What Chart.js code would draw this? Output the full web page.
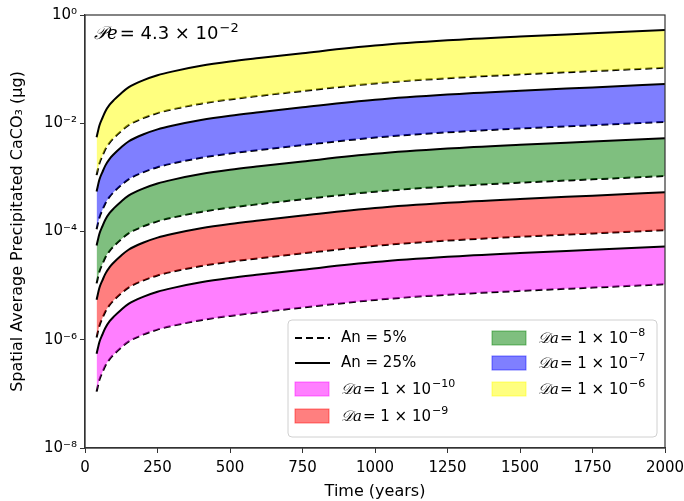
<!DOCTYPE html>
<html>
<head>
<meta charset="utf-8">
<script src="https://cdn.jsdelivr.net/npm/chart.js@4.4.1/dist/chart.umd.min.js"></script>
<style>
  html, body { margin: 0; padding: 0; background: #fff; }
  #wrap { width: 684px; height: 501px; position: relative; }
</style>
</head>
<body>
<div id="wrap"><canvas id="chart"></canvas></div>
<script>
// Time (years)
const time = [40, 50, 60, 70, 85, 100, 125, 150, 200, 250, 300, 400, 500, 600, 750, 1000, 1250, 1500, 1750, 2000];

// Da = 1e-6
const an25_da6 = [5.5e-3, 9.2e-3, 1.25e-2, 1.65e-2, 2.2e-2, 2.7e-2, 3.6e-2, 4.6e-2, 6.2e-2, 7.7e-2, 9.0e-2, 0.115, 0.138, 0.160, 0.197, 0.272, 0.34, 0.40, 0.46, 0.53];
const an5_da6  = [1.1e-3, 1.84e-3, 2.5e-3, 3.3e-3, 4.4e-3, 5.4e-3, 7.2e-3, 9.2e-3, 1.24e-2, 1.54e-2, 1.8e-2, 2.3e-2, 2.76e-2, 3.2e-2, 3.94e-2, 5.44e-2, 6.8e-2, 8.0e-2, 9.2e-2, 0.106];
// Da = 1e-7
const an25_da7 = [5.5e-4, 9.2e-4, 1.25e-3, 1.65e-3, 2.2e-3, 2.7e-3, 3.6e-3, 4.6e-3, 6.2e-3, 7.7e-3, 9.0e-3, 1.15e-2, 1.38e-2, 1.60e-2, 1.97e-2, 2.72e-2, 3.4e-2, 4.0e-2, 4.6e-2, 5.3e-2];
const an5_da7  = [1.1e-4, 1.84e-4, 2.5e-4, 3.3e-4, 4.4e-4, 5.4e-4, 7.2e-4, 9.2e-4, 1.24e-3, 1.54e-3, 1.8e-3, 2.3e-3, 2.76e-3, 3.2e-3, 3.94e-3, 5.44e-3, 6.8e-3, 8.0e-3, 9.2e-3, 1.06e-2];
// Da = 1e-8
const an25_da8 = [5.5e-5, 9.2e-5, 1.25e-4, 1.65e-4, 2.2e-4, 2.7e-4, 3.6e-4, 4.6e-4, 6.2e-4, 7.7e-4, 9.0e-4, 1.15e-3, 1.38e-3, 1.60e-3, 1.97e-3, 2.72e-3, 3.4e-3, 4.0e-3, 4.6e-3, 5.3e-3];
const an5_da8  = [1.1e-5, 1.84e-5, 2.5e-5, 3.3e-5, 4.4e-5, 5.4e-5, 7.2e-5, 9.2e-5, 1.24e-4, 1.54e-4, 1.8e-4, 2.3e-4, 2.76e-4, 3.2e-4, 3.94e-4, 5.44e-4, 6.8e-4, 8.0e-4, 9.2e-4, 1.06e-3];
// Da = 1e-9
const an25_da9 = [5.5e-6, 9.2e-6, 1.25e-5, 1.65e-5, 2.2e-5, 2.7e-5, 3.6e-5, 4.6e-5, 6.2e-5, 7.7e-5, 9.0e-5, 1.15e-4, 1.38e-4, 1.60e-4, 1.97e-4, 2.72e-4, 3.4e-4, 4.0e-4, 4.6e-4, 5.3e-4];
const an5_da9  = [1.1e-6, 1.84e-6, 2.5e-6, 3.3e-6, 4.4e-6, 5.4e-6, 7.2e-6, 9.2e-6, 1.24e-5, 1.54e-5, 1.8e-5, 2.3e-5, 2.76e-5, 3.2e-5, 3.94e-5, 5.44e-5, 6.8e-5, 8.0e-5, 9.2e-5, 1.06e-4];
// Da = 1e-10
const an25_da10 = [5.5e-7, 9.2e-7, 1.25e-6, 1.65e-6, 2.2e-6, 2.7e-6, 3.6e-6, 4.6e-6, 6.2e-6, 7.7e-6, 9.0e-6, 1.15e-5, 1.38e-5, 1.60e-5, 1.97e-5, 2.72e-5, 3.4e-5, 4.0e-5, 4.6e-5, 5.3e-5];
const an5_da10  = [1.1e-7, 1.84e-7, 2.5e-7, 3.3e-7, 4.4e-7, 5.4e-7, 7.2e-7, 9.2e-7, 1.24e-6, 1.54e-6, 1.8e-6, 2.3e-6, 2.76e-6, 3.2e-6, 3.94e-6, 5.44e-6, 6.8e-6, 8.0e-6, 9.2e-6, 1.06e-5];

const daExponents = ['-10', '-9', '-8', '-7', '-6'];
const bandColors = ['rgba(255,0,255,0.5)', 'rgba(255,0,0,0.5)', 'rgba(0,128,0,0.5)', 'rgba(0,0,255,0.5)', 'rgba(255,255,0,0.5)'];
const xTicks = [0, 250, 500, 750, 1000, 1250, 1500, 1750, 2000];
const yTicks = [1e-8, 1e-6, 1e-4, 1e-2, 1];
const yTickExp = ['-8', '-6', '-4', '-2', '0'];

const bands = [
  [an25_da10, an5_da10],
  [an25_da9, an5_da9],
  [an25_da8, an5_da8],
  [an25_da7, an5_da7],
  [an25_da6, an5_da6]
];

const FONT = '"DejaVu Sans", sans-serif';
const sup = s => s.replace(/-/g, '⁻').replace(/[0-9]/g, d => '⁰¹²³⁴⁵⁶⁷⁸⁹'[d]);
const pts = arr => arr.map((v, i) => ({ x: time[i], y: v }));

const datasets = [];
bands.forEach((b, i) => {
  datasets.push({
    label: 'An = 25%, Da = 1e' + daExponents[i],
    data: pts(b[0]),
    borderColor: '#000',
    borderWidth: 2,
    backgroundColor: bandColors[i],
    fill: '+1',
    pointRadius: 0,
    cubicInterpolationMode: 'monotone'
  });
  datasets.push({
    label: 'An = 5%, Da = 1e' + daExponents[i],
    data: pts(b[1]),
    borderColor: '#000',
    borderWidth: 2,
    borderDash: [7, 4],
    fill: false,
    pointRadius: 0,
    cubicInterpolationMode: 'monotone'
  });
});

// draw "base" + superscript
function drawSup(ctx, x, y, base, exp, size) {
  ctx.font = size + 'px ' + FONT;
  ctx.fillText(base, x, y);
  const w = ctx.measureText(base).width;
  ctx.font = Math.round(size * 0.7) + 'px ' + FONT;
  ctx.fillText(exp.replace('-', '\u2212'), x + w + 1, y - size * 0.38);
}

function drawDa(ctx, x, y, exp, size) {
  ctx.font = 'italic ' + size + 'px "DejaVu Serif", serif';
  ctx.fillText('\u{1D49F}a', x, y);
  let w = ctx.measureText('\u{1D49F}a').width;
  drawSup(ctx, x + w + 1, y, '= 1 \u00d7 10', exp, size);
}

const frameAndLegend = {
  id: 'frameAndLegend',
  afterDatasetsDraw(chart) {
    const { ctx, chartArea: a } = chart;
    ctx.save();
    ctx.strokeStyle = '#333';
    ctx.lineWidth = 1.2;
    ctx.strokeRect(a.left, a.top, a.right - a.left, a.bottom - a.top);

    // Pe annotation
    ctx.fillStyle = '#000';
    ctx.textBaseline = 'alphabetic';
    ctx.font = 'italic 18px "DejaVu Serif", serif';
    ctx.fillText('\u{1D4AB}e', 94, 39);
    const pw = ctx.measureText('\u{1D4AB}e').width;
    drawSup(ctx, 94 + pw + 2, 39, '= 4.3 \u00d7 10', '-2', 18);

    // legend box
    const lx = 288, ly = 320, lw = 369, lh = 117;
    ctx.fillStyle = 'rgba(255,255,255,0.85)';
    ctx.strokeStyle = '#d0d0d0';
    ctx.lineWidth = 1;
    ctx.beginPath();
    ctx.roundRect(lx, ly, lw, lh, 4);
    ctx.fill();
    ctx.stroke();

    ctx.textBaseline = 'middle';
    const rows = [338, 363, 389, 416];
    // line handles
    ctx.strokeStyle = '#000';
    ctx.lineWidth = 2;
    ctx.setLineDash([7, 4]);
    ctx.beginPath(); ctx.moveTo(295, rows[0]); ctx.lineTo(330, rows[0]); ctx.stroke();
    ctx.setLineDash([]);
    ctx.beginPath(); ctx.moveTo(295, rows[1]); ctx.lineTo(330, rows[1]); ctx.stroke();
    ctx.fillStyle = '#000';
    ctx.font = '15px ' + FONT;
    ctx.fillText('An = 5%', 341, rows[0]);
    ctx.fillText('An = 25%', 341, rows[1]);

    const patches = [
      [295, rows[2], 0], [295, rows[3], 1],
      [492, rows[0], 2], [492, rows[1], 3], [492, rows[2], 4]
    ];
    patches.forEach(([px, py, k]) => {
      ctx.fillStyle = bandColors[k];
      ctx.fillRect(px, py - 7, 34, 14);
      ctx.strokeStyle = bandColors[k];
      ctx.lineWidth = 1;
      ctx.strokeRect(px, py - 7, 34, 14);
      ctx.fillStyle = '#000';
      drawDa(ctx, px + 46, py + 1, daExponents[k], 15);
    });
    ctx.restore();
  }
};

new Chart(document.getElementById('chart'), {
  type: 'line',
  data: { datasets },
  plugins: [frameAndLegend],
  options: {
    responsive: true,
    maintainAspectRatio: false,
    animation: false,
    layout: { padding: { top: 15, right: 19, left: 0, bottom: 0 } },
    plugins: {
      legend: { display: false },
      tooltip: { enabled: false }
    },
    scales: {
      x: {
        type: 'linear',
        min: 0,
        max: 2000,
        afterBuildTicks: s => { s.ticks = xTicks.map(v => ({ value: v })); },
        afterFit: s => { s.height = 53; s.paddingLeft = 0; s.paddingRight = 0; },
        grid: { drawOnChartArea: false, drawTicks: true, tickLength: 5, color: '#333' },
        border: { color: '#333', width: 1.2 },
        ticks: { color: '#000', font: { family: FONT, size: 15 }, padding: 6, maxRotation: 0, callback: v => String(v) },
        title: { display: true, text: 'Time (years)', color: '#000', font: { family: FONT, size: 16 }, padding: { top: 0, bottom: 0 } }
      },
      y: {
        type: 'logarithmic',
        min: 1e-8,
        max: 1,
        afterBuildTicks: s => { s.ticks = yTicks.map(v => ({ value: v })); },
        afterFit: s => { s.width = 85; },
        grid: { drawOnChartArea: false, drawTicks: true, tickLength: 5, color: '#333' },
        border: { color: '#333', width: 1.2 },
        ticks: {
          color: '#000',
          font: { family: FONT, size: 15 },
          padding: 3,
          callback: (v, i) => '10' + sup(yTickExp[i])
        },
        title: { display: true, text: 'Spatial Average Precipitated CaCO\u2083 (\u00b5g)', color: '#000', font: { family: FONT, size: 16 }, padding: { top: 8, bottom: 0 } }
      }
    }
  }
});
</script>
</body>
</html>
